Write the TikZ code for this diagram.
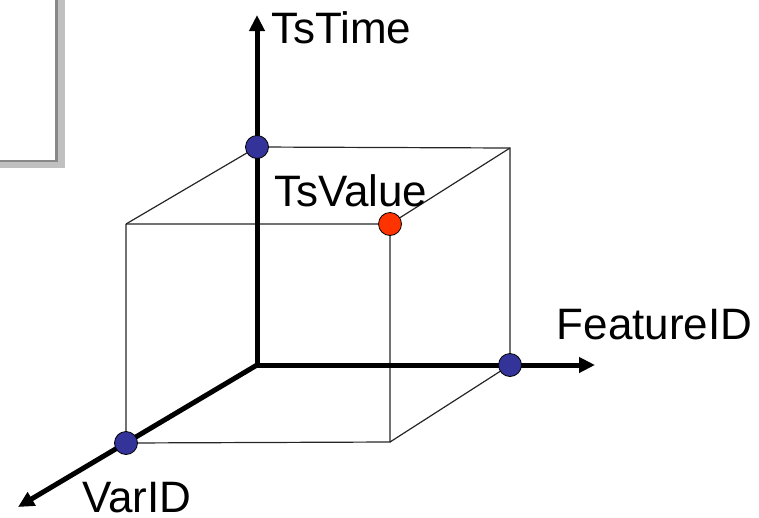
\documentclass[tikz,border=0pt]{standalone}
\usepackage{fontspec}
\setmainfont{Liberation Sans}
\usetikzlibrary{arrows.meta}
\definecolor{dotblue}{HTML}{333399}
\definecolor{dotred}{HTML}{FF3300}
\definecolor{framedark}{HTML}{888888}
\definecolor{framelight}{HTML}{C0C0C0}
\tikzset{
  axis/.style={line width=5pt,-{Triangle[length=16pt,width=15pt]}},
  edge/.style={line width=1.2pt,draw=black!85},
  dot/.style={circle,draw=black,line width=0.8pt,minimum size=23pt,inner sep=0pt},
  bluedot/.style={dot,fill=dotblue},
  reddot/.style={dot,fill=dotred},
  lbl/.style={anchor=base west,inner sep=0pt,font=\fontsize{44}{52}\selectfont}
}
\begin{document}
\begin{tikzpicture}[x=1pt,y=-1pt]
\useasboundingbox (0,0) rectangle (759,517);
% framed box at top left
\fill[framelight] (-10,-10) rectangle (64.5,168);
\fill[framedark] (-10,-10) rectangle (57.5,162);
\fill[white] (-10,-10) rectangle (55,159.5);
% coordinates
\coordinate (O) at (257,365);
\coordinate (Ttip) at (257,15);
\coordinate (Ftip) at (595,365);
\coordinate (Vtip) at (18,507);
\coordinate (A) at (126,443);
\coordinate (B) at (390,442);
\coordinate (C) at (390,224);
\coordinate (D) at (126,224);
\coordinate (E) at (257,147);
\coordinate (G) at (510,148);
\coordinate (H) at (510,365);
% cube edges
\draw[edge] (D) -- (A) -- (B) -- (C) -- (D);
\draw[edge] (D) -- (E) -- (G) -- (H);
\draw[edge] (C) -- (G);
\draw[edge] (B) -- (H);
% axes
\draw[axis] (O) -- (Ttip);
\draw[axis] (O) -- (Ftip);
\draw[axis] (O) -- (Vtip);
% dots
\node[bluedot] (dE) at (E) {};
\node[bluedot] (dA) at (A) {};
\node[bluedot] (dH) at (H) {};
\node[reddot] (dC) at (C) {};
% labels
\node[lbl] (lT) at (271,43) {TsTime};
\node[lbl] (lV) at (274,206) {TsValue};
\node[lbl] (lF) at (556.5,339) {FeatureID};
\node[lbl] (lI) at (82,512) {VarID};
\end{tikzpicture}
\end{document}
